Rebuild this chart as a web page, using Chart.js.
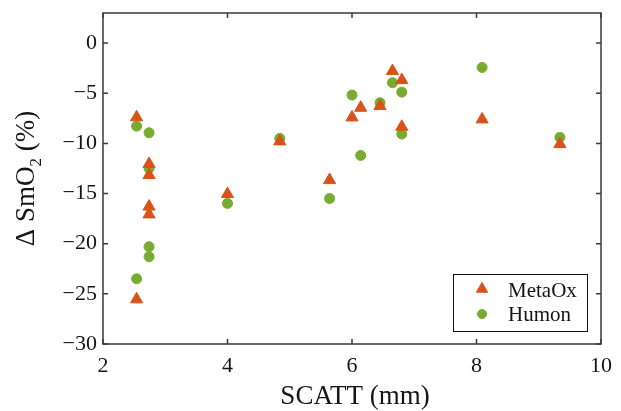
<!DOCTYPE html>
<html>
<head>
<meta charset="utf-8">
<script src="https://cdn.jsdelivr.net/npm/chart.js@4.4.1/dist/chart.umd.min.js"></script>
<style>
  html, body { margin: 0; padding: 0; background: #fff; }
  #wrap { width: 621px; height: 411px; }
</style>
</head>
<body>
<div id="wrap"><canvas id="chart" width="621" height="411"></canvas></div>
<script>
// SCATT thickness (mm) and change in SmO2 (%) per device
const scattMetaOx = [2.54, 2.54, 2.74, 2.74, 2.74, 2.74, 4.0, 4.84, 5.64, 6.0, 6.14, 6.45, 6.65, 6.8, 6.8, 8.09, 9.34];
const smo2MetaOx  = [-7.4, -25.55, -12.06, -13.16, -16.3, -17.08, -15.05, -9.8, -13.66, -7.41, -6.45, -6.28, -2.79, -3.69, -8.34, -7.61, -10.07];

const scattHumon = [2.54, 2.54, 2.74, 2.74, 2.74, 2.74, 4.0, 4.84, 5.64, 6.0, 6.14, 6.45, 6.65, 6.8, 6.8, 8.09, 9.34];
const smo2Humon  = [-8.28, -23.5, -8.94, -12.5, -20.3, -21.3, -15.98, -9.5, -15.5, -5.18, -11.2, -5.95, -3.95, -4.89, -9.07, -2.43, -9.4];

const xTicks = [2, 4, 6, 8, 10];
const yTicks = [-30, -25, -20, -15, -10, -5, 0];

const orange = '#D95319';
const green = '#77AC30';
const axisColor = '#3a3a3a';
const textColor = '#151515';
const serif = '"Liberation Serif", "Times New Roman", serif';

const toPoints = (xs, ys) => xs.map((x, i) => ({x: x, y: ys[i]}));
const fmt = v => (v < 0 ? '\u2212' + Math.abs(v) : String(v));

// box, inward ticks on all four sides, axis titles, legend
const decorations = {
  id: 'decorations',
  afterDraw(chart) {
    const {ctx, chartArea: a, scales: {x, y}} = chart;
    const len = 5;
    ctx.save();
    ctx.strokeStyle = axisColor;
    ctx.lineWidth = 1.5;
    ctx.strokeRect(a.left, a.top, a.right - a.left, a.bottom - a.top);
    ctx.beginPath();
    xTicks.forEach(v => {
      const px = x.getPixelForValue(v);
      ctx.moveTo(px, a.bottom); ctx.lineTo(px, a.bottom - len);
      ctx.moveTo(px, a.top); ctx.lineTo(px, a.top + len);
    });
    yTicks.forEach(v => {
      const py = y.getPixelForValue(v);
      ctx.moveTo(a.left, py); ctx.lineTo(a.left + len, py);
      ctx.moveTo(a.right, py); ctx.lineTo(a.right - len, py);
    });
    ctx.stroke();

    // x axis title
    ctx.fillStyle = textColor;
    ctx.font = '27px ' + serif;
    ctx.textAlign = 'center';
    ctx.textBaseline = 'alphabetic';
    ctx.fillText('SCATT (mm)', (a.left + a.right) / 2 + 3, 404);

    // y axis title: "Δ SmO2 (%)" with subscript 2
    ctx.translate(34, (a.top + a.bottom) / 2);
    ctx.rotate(-Math.PI / 2);
    const big = '27px ' + serif, small = '17px ' + serif;
    const parts = [['\u0394 SmO', big, 0], ['2', small, 7], [' (%)', big, 0]];
    let total = 0;
    parts.forEach(p => { ctx.font = p[1]; total += ctx.measureText(p[0]).width; });
    let cx = -total / 2;
    ctx.textAlign = 'left';
    parts.forEach(p => {
      ctx.font = p[1];
      ctx.fillText(p[0], cx, p[2]);
      cx += ctx.measureText(p[0]).width;
    });
    ctx.restore();

    // legend
    ctx.save();
    const lx = 453, ly = 274, lw = 134, lh = 57;
    ctx.fillStyle = '#fff';
    ctx.fillRect(lx, ly, lw, lh);
    ctx.strokeStyle = '#111';
    ctx.lineWidth = 1;
    ctx.strokeRect(lx + 0.5, ly + 0.5, lw, lh);
    ctx.fillStyle = orange;
    ctx.strokeStyle = orange;
    Chart.helpers.drawPoint(ctx, {pointStyle: 'triangle', radius: 6.5, borderWidth: 1}, 482, ly + 15);
    ctx.fillStyle = green;
    ctx.strokeStyle = green;
    Chart.helpers.drawPoint(ctx, {pointStyle: 'circle', radius: 4.5, borderWidth: 1}, 482, ly + 40);
    ctx.font = '21px ' + serif;
    ctx.fillStyle = textColor;
    ctx.textBaseline = 'middle';
    ctx.textAlign = 'left';
    ctx.fillText('MetaOx', 508, ly + 17);
    ctx.fillText('Humon', 508, ly + 41);
    ctx.restore();
  }
};

new Chart(document.getElementById('chart'), {
  type: 'scatter',
  data: {
    datasets: [
      {
        label: 'MetaOx',
        data: toPoints(scattMetaOx, smo2MetaOx),
        pointStyle: 'triangle',
        pointRadius: 7,
        backgroundColor: orange,
        borderColor: orange,
        borderWidth: 1
      },
      {
        label: 'Humon',
        data: toPoints(scattHumon, smo2Humon),
        pointStyle: 'circle',
        pointRadius: 5,
        backgroundColor: green,
        borderColor: green,
        borderWidth: 1
      }
    ]
  },
  options: {
    responsive: false,
    animation: false,
    layout: {padding: {left: 0, right: 20, top: 13, bottom: 0}},
    plugins: {
      legend: {display: false},
      tooltip: {enabled: false}
    },
    scales: {
      x: {
        type: 'linear',
        min: 2,
        max: 10,
        grid: {display: false, drawTicks: false},
        border: {display: false},
        afterBuildTicks: s => { s.ticks = xTicks.map(v => ({value: v})); },
        afterFit: s => { s.height = 67; s.paddingLeft = 0; s.paddingRight = 0; },
        ticks: {
          font: {family: serif, size: 22},
          color: textColor,
          padding: 9,
          maxRotation: 0,
          callback: fmt
        }
      },
      y: {
        type: 'linear',
        min: -30,
        max: 3,
        grid: {display: false, drawTicks: false},
        border: {display: false},
        afterBuildTicks: s => { s.ticks = yTicks.map(v => ({value: v})); },
        afterFit: s => { s.width = 103; s.paddingTop = 0; s.paddingBottom = 0; },
        ticks: {
          font: {family: serif, size: 22},
          color: textColor,
          padding: 6,
          callback: fmt
        }
      }
    }
  },
  plugins: [decorations]
});
</script>
</body>
</html>
